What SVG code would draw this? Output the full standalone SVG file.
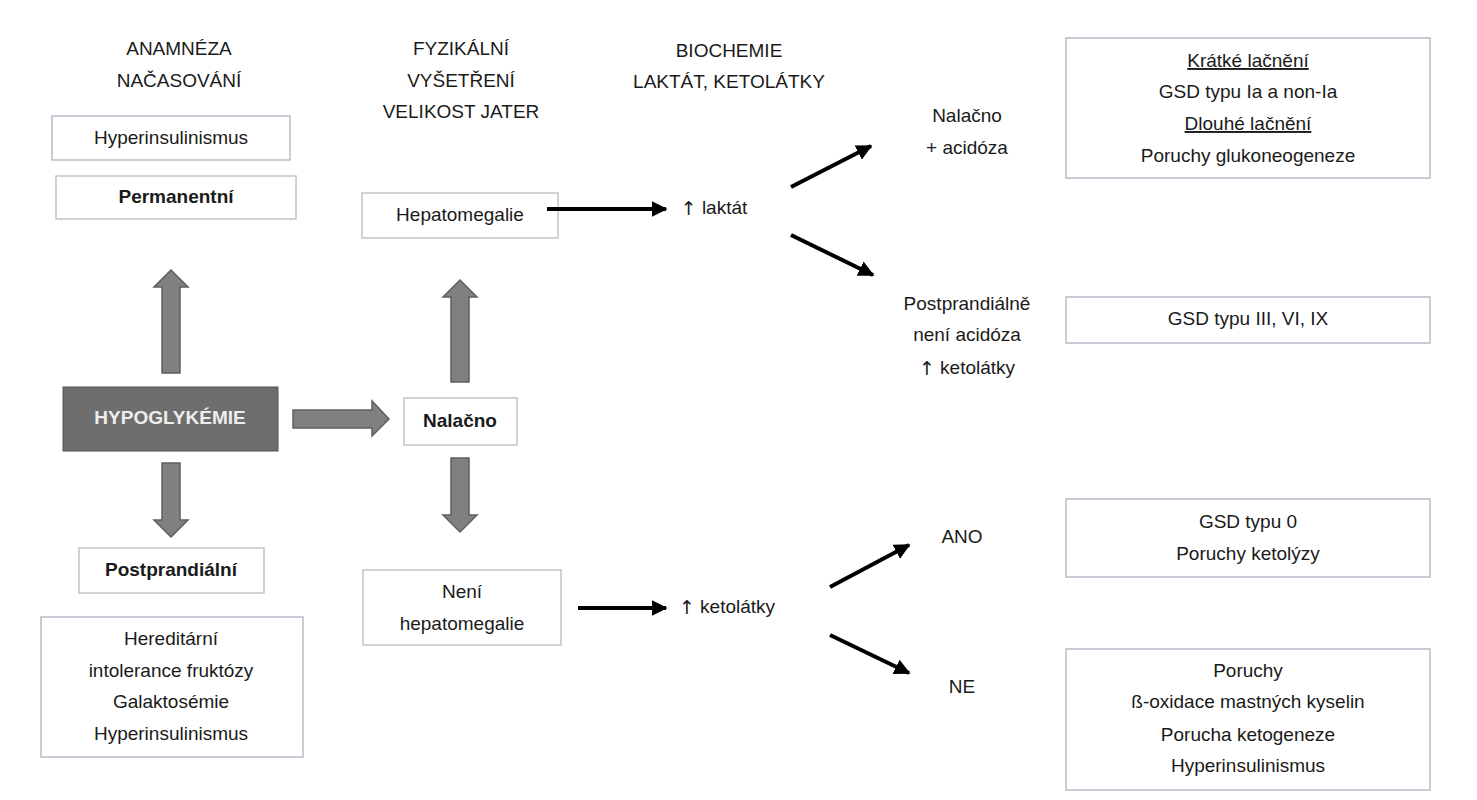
<svg xmlns="http://www.w3.org/2000/svg" width="1477" height="800" viewBox="0 0 1477 800">
<defs>
<marker id="ah" viewBox="0 0 10 10" refX="9" refY="5" markerWidth="4" markerHeight="4" orient="auto"><path d="M0,0 L10,5 L0,10 z" fill="#000"/></marker>
<style>
text{font-family:"Liberation Sans",Arial,sans-serif;font-size:19px;fill:#1a1a1a;text-anchor:middle;dominant-baseline:middle}
.b{font-weight:bold}
.up{font-family:"DejaVu Sans",sans-serif;font-weight:normal}
.box{fill:#fff;stroke:#b8bcc8;stroke-width:1.5}
.gbox{fill:#fff;stroke:#c4c4c4;stroke-width:1.5}
.ga{fill:#808080;stroke:#5f5f5f;stroke-width:1.5}
.ln{stroke:#000;stroke-width:4;fill:none;marker-end:url(#ah)}
</style>
</defs>
<rect width="1477" height="800" fill="#fff"/>
<g id="headers">
<text x="179" y="50">ANAMNÉZA</text><text x="179" y="82">NAČASOVÁNÍ</text>
<text x="461" y="50">FYZIKÁLNÍ</text><text x="461" y="82">VYŠETŘENÍ</text><text x="461" y="113">VELIKOST JATER</text>
<text x="729" y="52">BIOCHEMIE</text><text x="729" y="83">LAKTÁT, KETOLÁTKY</text>
</g>
<g id="n-hyper1"><rect class="box" x="52" y="116" width="238" height="44"/><text x="171" y="139">Hyperinsulinismus</text></g>
<g id="n-perm"><rect class="gbox" x="56" y="176" width="240" height="43"/><text class="b" x="176" y="198">Permanentní</text></g>
<g id="n-hypo"><rect x="63" y="387" width="215" height="64" fill="#6e6e6e" stroke="#555"/><text class="b" x="170" y="419" style="fill:#eee">HYPOGLYKÉMIE</text></g>
<g id="n-nalacno"><rect class="gbox" x="404" y="398" width="113" height="47"/><text class="b" x="460" y="422">Nalačno</text></g>
<g id="n-hepato"><rect class="gbox" x="362" y="193" width="196" height="45"/><text x="460" y="216">Hepatomegalie</text></g>
<g id="n-neni"><rect class="gbox" x="363" y="570" width="198" height="75"/><text x="462" y="593">Není</text><text x="462" y="625">hepatomegalie</text></g>
<g id="n-postp"><rect class="gbox" x="79" y="548" width="185" height="45"/><text class="b" x="171" y="571">Postprandiální</text></g>
<g id="n-hered"><rect class="box" x="41" y="617" width="262" height="140"/>
<text x="171" y="640">Hereditární</text><text x="171" y="672">intolerance fruktózy</text><text x="171" y="703">Galaktosémie</text><text x="171" y="735">Hyperinsulinismus</text></g>
<g id="n-laktat"><text x="714" y="209"><tspan class="up">↑</tspan> laktát</text></g>
<g id="n-keto"><text x="727" y="608"><tspan class="up">↑</tspan> ketolátky</text></g>
<g id="n-nalac2"><text x="967" y="117">Nalačno</text><text x="967" y="149">+ acidóza</text></g>
<g id="n-postp2"><text x="967" y="305">Postprandiálně</text><text x="967" y="336">není acidóza</text><text x="967" y="369"><tspan class="up">↑</tspan> ketolátky</text></g>
<g id="n-ano"><text x="962" y="538">ANO</text></g>
<g id="n-ne"><text x="962" y="688">NE</text></g>
<g id="n-box1"><rect class="box" x="1066" y="38" width="364" height="140"/>
<text x="1248" y="62" text-decoration="underline">Krátké lačnění</text><text x="1248" y="93">GSD typu Ia a non-Ia</text><text x="1248" y="125" text-decoration="underline">Dlouhé lačnění</text><text x="1248" y="157">Poruchy glukoneogeneze</text></g>
<g id="n-box2"><rect class="box" x="1066" y="297" width="364" height="46"/><text x="1248" y="320">GSD typu III, VI, IX</text></g>
<g id="n-box3"><rect class="box" x="1066" y="499" width="364" height="78"/><text x="1248" y="523">GSD typu 0</text><text x="1248" y="555">Poruchy ketolýzy</text></g>
<g id="n-box4"><rect class="box" x="1066" y="649" width="364" height="141"/>
<text x="1248" y="672">Poruchy</text><text x="1248" y="703">ß-oxidace mastných kyselin</text><text x="1248" y="736">Porucha ketogeneze</text><text x="1248" y="767">Hyperinsulinismus</text></g>
<g id="connectors">
<path class="ga" d="M162,373 V287 H154 L171,270 L188,287 H180 V373 Z"/>
<path class="ga" d="M162,463 V520 H154 L171,537 L188,520 H180 V463 Z"/>
<path class="ga" d="M293,410 H372 V401 L389,419 L372,436 V428 H293 Z"/>
<path class="ga" d="M451,382 V297 H443 L460,280 L477,297 H469 V382 Z"/>
<path class="ga" d="M451,458 V515 H443 L460,532 L477,515 H469 V458 Z"/>
<line class="ln" x1="547" y1="209" x2="666" y2="209"/>
<line class="ln" x1="791" y1="187" x2="871" y2="146"/>
<line class="ln" x1="791" y1="235" x2="873" y2="275"/>
<line class="ln" x1="578" y1="608" x2="666" y2="608"/>
<line class="ln" x1="830" y1="587" x2="909" y2="545"/>
<line class="ln" x1="830" y1="635" x2="909" y2="673"/>
</g>
</svg>
